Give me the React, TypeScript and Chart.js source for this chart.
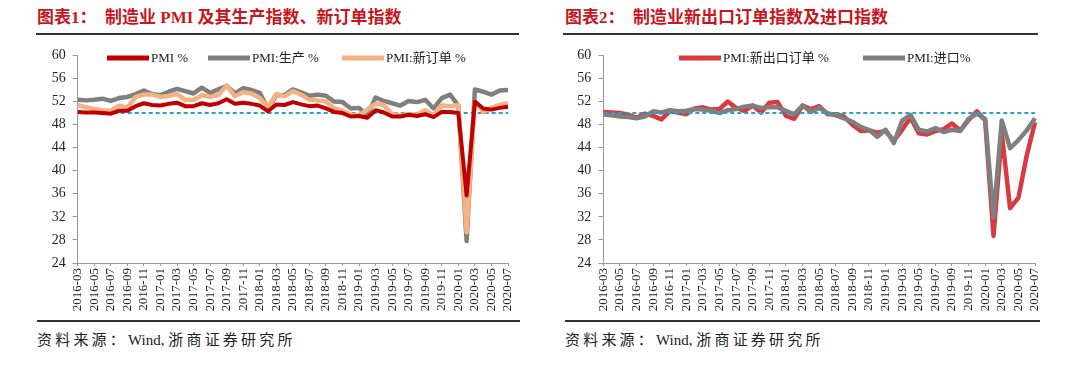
import React, { useEffect, useRef } from 'react';
import { Chart, registerables } from 'chart.js';

Chart.register(...registerables);

// ---------- Data ----------
const months = [
  '2016-03', '2016-04', '2016-05', '2016-06', '2016-07', '2016-08', '2016-09', '2016-10', '2016-11', '2016-12',
  '2017-01', '2017-02', '2017-03', '2017-04', '2017-05', '2017-06', '2017-07', '2017-08', '2017-09', '2017-10', '2017-11', '2017-12',
  '2018-01', '2018-02', '2018-03', '2018-04', '2018-05', '2018-06', '2018-07', '2018-08', '2018-09', '2018-10', '2018-11', '2018-12',
  '2019-01', '2019-02', '2019-03', '2019-04', '2019-05', '2019-06', '2019-07', '2019-08', '2019-09', '2019-10', '2019-11', '2019-12',
  '2020-01', '2020-02', '2020-03', '2020-04', '2020-05', '2020-06', '2020-07',
];

const pmi = [
  50.2, 50.1, 50.1, 50.0, 49.9, 50.4, 50.4, 51.2, 51.7, 51.4,
  51.3, 51.6, 51.8, 51.2, 51.2, 51.7, 51.4, 51.7, 52.4, 51.6, 51.8, 51.6,
  51.3, 50.3, 51.5, 51.4, 51.9, 51.5, 51.2, 51.3, 50.8, 50.2, 50.0, 49.4,
  49.5, 49.2, 50.5, 50.1, 49.4, 49.4, 49.7, 49.5, 49.8, 49.3, 50.2, 50.2,
  50.0, 35.7, 52.0, 50.8, 50.6, 50.9, 51.1,
];

const pmiProduction = [
  52.3, 52.2, 52.3, 52.5, 52.1, 52.6, 52.8, 53.3, 53.9, 53.3,
  53.1, 53.7, 54.2, 53.8, 53.4, 54.4, 53.5, 54.1, 54.7, 53.4, 54.3, 54.0,
  53.5, 50.7, 53.1, 53.1, 54.1, 53.6, 53.0, 53.2, 53.0, 52.0, 51.9, 50.8,
  50.9, 49.5, 52.7, 52.1, 51.7, 51.3, 52.1, 51.9, 52.3, 50.8, 52.6, 53.2,
  51.3, 27.8, 54.1, 53.7, 53.2, 53.9, 54.0,
];

const pmiNewOrders = [
  51.4, 51.0, 50.7, 50.5, 50.4, 51.3, 50.9, 52.8, 53.2, 53.2,
  52.8, 53.0, 53.3, 52.3, 52.3, 53.1, 52.8, 53.1, 54.8, 52.9, 53.6, 53.4,
  52.6, 51.0, 53.3, 52.9, 53.8, 53.2, 52.3, 52.2, 52.0, 50.8, 50.4, 49.7,
  49.6, 50.6, 51.6, 51.4, 49.8, 49.6, 49.8, 49.7, 50.5, 49.6, 51.3, 51.2,
  51.4, 29.3, 52.0, 50.2, 50.9, 51.4, 51.7,
];

const newExportOrders = [
  50.2, 50.1, 50.0, 49.7, 49.2, 49.9, 49.5, 48.9, 50.3, 50.1,
  49.8, 50.8, 51.0, 50.6, 50.7, 52.0, 50.9, 50.4, 51.3, 50.1, 51.8, 51.9,
  49.5, 49.0, 51.3, 50.7, 51.2, 49.8, 49.8, 49.4, 48.0, 46.9, 47.0, 46.6,
  46.9, 45.2, 47.1, 49.2, 46.5, 46.3, 46.9, 47.2, 48.2, 47.0, 48.8, 50.3,
  48.7, 28.7, 46.4, 33.5, 35.3, 42.6, 48.4,
];

const importIndex = [
  49.8, 49.6, 49.4, 49.3, 49.1, 49.4, 50.3, 50.1, 50.5, 50.3,
  50.4, 50.7, 50.6, 50.4, 50.0, 50.5, 50.7, 51.1, 51.3, 50.9, 51.0, 51.0,
  50.4, 49.8, 51.3, 50.2, 50.9, 50.0, 49.6, 49.1, 48.5, 47.6, 47.1, 45.9,
  47.1, 44.8, 48.7, 49.7, 47.1, 46.8, 47.4, 46.7, 47.1, 46.9, 49.0, 49.9,
  49.0, 31.9, 48.7, 43.9, 45.3, 47.0, 49.1,
];

const Y_MIN = 24;
const Y_MAX = 60;
const Y_STEP = 4;
const REF_LEVEL = 50;

const chart1Labels = ['PMI %', 'PMI:生产 %', 'PMI:新订单 %'];
const chart2Labels = ['PMI:新出口订单 %', 'PMI:进口%'];

const SERIF = '"Liberation Serif", "Noto Sans CJK SC", serif';

type PanelProps = {
  left: number;
  top: number;
  width: number;
  height: number;
  datasets: any[];
  yWidth: number;
  padRight: number;
  xHeight: number;
  padTop: number;
  legendXs: number[];
  legendY: number;
  refOnTop: boolean;
};

function PanelChart(p: PanelProps) {
  const ref = useRef<HTMLCanvasElement>(null);
  useEffect(() => {
    const legendPlugin = {
      id: 'customLegend',
      afterDraw(chart: any) {
        const ctx = chart.ctx;
        ctx.save();
        chart.data.datasets.forEach((ds: any, i: number) => {
          const x = p.legendXs[i];
          const y = p.legendY;
          ctx.beginPath();
          ctx.strokeStyle = ds.borderColor;
          ctx.lineWidth = 5;
          ctx.lineCap = 'butt';
          ctx.moveTo(x, y);
          ctx.lineTo(x + 42, y);
          ctx.stroke();
          ctx.fillStyle = '#222';
          ctx.font = '13px ' + SERIF;
          ctx.textBaseline = 'middle';
          ctx.textAlign = 'left';
          ctx.fillText(ds.label, x + 44, y + 1);
        });
        ctx.restore();
      },
    };
    const drawRef = (chart: any) => {
      const { ctx, chartArea, scales } = chart;
      const y = scales.y.getPixelForValue(REF_LEVEL);
      ctx.save();
      ctx.beginPath();
      ctx.setLineDash([4, 3]);
      ctx.strokeStyle = '#2a9fc9';
      ctx.lineWidth = 2;
      ctx.moveTo(chartArea.left + 1, y);
      ctx.lineTo(chartArea.right, y);
      ctx.stroke();
      ctx.restore();
    };
    const refPlugin = p.refOnTop
      ? { id: 'refLine', afterDatasetsDraw: drawRef }
      : { id: 'refLine', beforeDatasetsDraw: drawRef };

    const chart = new Chart(ref.current!, {
      type: 'line',
      data: { labels: months, datasets: p.datasets },
      options: {
        responsive: false,
        animation: false,
        layout: { padding: { top: p.padTop, right: p.padRight, bottom: 0, left: 0 } },
        elements: { point: { radius: 0 }, line: { tension: 0, borderJoinStyle: 'round' } },
        plugins: { legend: { display: false }, tooltip: { enabled: false } },
        scales: {
          x: {
            offset: false,
            grid: {
              drawOnChartArea: false,
              drawTicks: true,
              tickLength: 3,
              tickColor: (c: any) => (c.index % 2 === 0 ? '#999' : 'rgba(0,0,0,0)'),
            },
            border: { display: true, color: '#999', width: 1 },
            ticks: {
              autoSkip: false,
              maxRotation: 90,
              minRotation: 90,
              padding: 2,
              color: '#222',
              font: { family: SERIF, size: 13 },
              callback: (_v: any, i: number) => (i % 2 === 0 ? months[i] : ''),
            },
            afterFit: (s: any) => {
              s.height = p.xHeight;
            },
          },
          y: {
            min: Y_MIN,
            max: Y_MAX,
            grid: { drawOnChartArea: false, drawTicks: true, tickLength: 5, tickColor: '#999' },
            border: { display: true, color: '#999', width: 1 },
            ticks: {
              stepSize: Y_STEP,
              padding: 7,
              color: '#222',
              font: { family: SERIF, size: 14 },
            },
            afterFit: (s: any) => {
              s.width = p.yWidth;
            },
          },
        },
      } as any,
      plugins: [refPlugin as any, legendPlugin as any],
    });
    return () => chart.destroy();
  }, []);
  return (
    <div style={{ position: 'absolute', left: p.left, top: p.top, width: p.width, height: p.height }}>
      <canvas ref={ref} width={p.width} height={p.height} style={{ display: 'block' }} />
    </div>
  );
}

const titleStyle: React.CSSProperties = {
  position: 'absolute',
  top: 7,
  fontFamily: SERIF,
  fontWeight: 'bold',
  fontSize: 17,
  lineHeight: '22px',
  color: '#c8161d',
  whiteSpace: 'pre',
};

const sourceStyle: React.CSSProperties = {
  position: 'absolute',
  top: 330,
  fontFamily: SERIF,
  fontSize: 15,
  lineHeight: '20px',
  color: '#222',
  whiteSpace: 'pre',
};

const cjkSpaced: React.CSSProperties = { letterSpacing: '3.2px' };

const rule = (left: number, top: number, width: number): React.CSSProperties => ({
  position: 'absolute',
  left,
  top,
  width,
  height: 2,
  background: '#333',
});

function Source({ left }: { left: number }) {
  return (
    <div style={{ ...sourceStyle, left }}>
      <span style={cjkSpaced}>{'资料来源：'}</span>
      <span>{'Wind, '}</span>
      <span style={cjkSpaced}>{'浙商证券研究所'}</span>
    </div>
  );
}

export default function App() {
  const ds1 = [
    { label: chart1Labels[0], data: pmi, borderColor: '#c00000', backgroundColor: '#c00000', borderWidth: 4, order: 0, fill: false },
    { label: chart1Labels[1], data: pmiProduction, borderColor: '#7f7f7f', backgroundColor: '#7f7f7f', borderWidth: 4.5, order: 2, fill: false },
    { label: chart1Labels[2], data: pmiNewOrders, borderColor: '#f4b183', backgroundColor: '#f4b183', borderWidth: 4.5, order: 1, fill: false },
  ];
  const ds2 = [
    { label: chart2Labels[0], data: newExportOrders, borderColor: '#d9393f', backgroundColor: '#d9393f', borderWidth: 4.5, order: 1, fill: false },
    { label: chart2Labels[1], data: importIndex, borderColor: '#7f7f7f', backgroundColor: '#7f7f7f', borderWidth: 4.5, order: 0, fill: false },
  ];
  return (
    <div style={{ position: 'absolute', left: 0, top: 0, width: 1080, height: 378, background: '#fff', overflow: 'hidden' }}>
      <div style={{ ...titleStyle, left: 37 }}>{'图表1：  制造业 PMI 及其生产指数、新订单指数'}</div>
      <div style={rule(36, 33, 483)} />
      <div style={{ ...titleStyle, left: 565 }}>{'图表2：  制造业新出口订单指数及进口指数'}</div>
      <div style={rule(563, 33, 475)} />

      <PanelChart
        left={30}
        top={40}
        width={500}
        height={280}
        datasets={ds1}
        yWidth={47.7}
        padRight={22}
        xHeight={57}
        padTop={10}
        legendXs={[77, 178, 312]}
        legendY={18}
        refOnTop={false}
      />
      <PanelChart
        left={560}
        top={40}
        width={500}
        height={280}
        datasets={ds2}
        yWidth={43.3}
        padRight={25}
        xHeight={57}
        padTop={10}
        legendXs={[119, 303]}
        legendY={18}
        refOnTop={true}
      />

      <div style={rule(37, 320, 483)} />
      <div style={rule(565, 320, 475)} />
      <Source left={37} />
      <Source left={565} />
    </div>
  );
}
